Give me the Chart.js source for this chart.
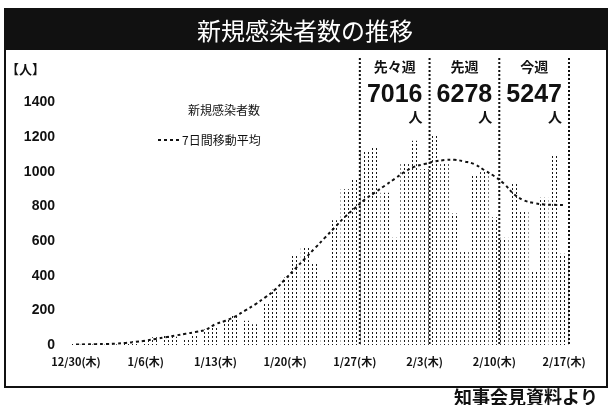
<!DOCTYPE html>
<html lang="ja">
<head>
<meta charset="utf-8">
<title>新規感染者数の推移</title>
<script src="https://cdn.jsdelivr.net/npm/chart.js@4.4.1/dist/chart.umd.min.js"></script>
<style>
  html, body { margin: 0; padding: 0; background: #fff; }
  #wrap { width: 612px; height: 405px; position: relative; }
</style>
</head>
<body>
<div id="wrap"><canvas id="trendChart" width="612" height="405"></canvas></div>
<script>
// daily dates, one bar each
const days = [
  '12/30(木)', '12/31(金)', '1/1(土)', '1/2(日)', '1/3(月)', '1/4(火)', '1/5(水)',
  '1/6(木)', '1/7(金)', '1/8(土)', '1/9(日)', '1/10(月)', '1/11(火)', '1/12(水)',
  '1/13(木)', '1/14(金)', '1/15(土)', '1/16(日)', '1/17(月)', '1/18(火)', '1/19(水)',
  '1/20(木)', '1/21(金)', '1/22(土)', '1/23(日)', '1/24(月)', '1/25(火)', '1/26(水)',
  '1/27(木)', '1/28(金)', '1/29(土)', '1/30(日)', '1/31(月)', '2/1(火)', '2/2(水)',
  '2/3(木)', '2/4(金)', '2/5(土)', '2/6(日)', '2/7(月)', '2/8(火)', '2/9(水)',
  '2/10(木)', '2/11(金)', '2/12(土)', '2/13(日)', '2/14(月)', '2/15(火)', '2/16(水)',
  '2/17(木)'
];

// new cases per day
const newCases = [
  8, 6, 3, 2, 4, 15, 22,
  30, 45, 55, 48, 35, 60, 90,
  110, 150, 170, 140, 120, 240, 320,
  390, 520, 560, 470, 380, 720, 900,
  960, 1120, 1150, 880, 620, 1050, 1180,
  1016, 1210, 1050, 760, 540, 980, 1000,
  738, 620, 940, 780, 430, 850, 1100,
  527
];

// 7-day moving average
const movingAvg = [
  3, 4, 5, 6, 8, 12, 18,
  25, 35, 45, 55, 65, 75, 88,
  120, 140, 165, 200, 235, 275, 320,
  380, 440, 500, 560, 620, 680, 740,
  790, 840, 880, 920, 960, 1000, 1030,
  1045, 1060, 1068, 1070, 1060, 1045, 1010,
  975, 930, 870, 835, 820, 812, 810,
  808
];

const tickDays = ['12/30(木)', '1/6(木)', '1/13(木)', '1/20(木)', '1/27(木)', '2/3(木)', '2/10(木)', '2/17(木)'];

// weekly totals: first day of each week, its name and sum
const weekStarts = ['1/28(金)', '2/4(金)', '2/11(金)'];
const weekNames = ['先々週', '先週', '今週'];
const weekTotals = [7016, 6278, 5247];

const TITLE = '新規感染者数の推移';
const SOURCE = '知事会見資料より';
const CJK = '"Noto Sans CJK JP", "Noto Sans", sans-serif';
const NUM = '"Liberation Sans", Arial, sans-serif';

// halftone-like fill: short vertical dashes in columns
function makeBarPattern() {
    const tile = document.createElement('canvas');
    tile.width = 4;
    tile.height = 4;
    const g = tile.getContext('2d');
    g.fillStyle = '#1a1a1a';
    g.fillRect(0, 0, 1, 2);
    return document.getElementById('trendChart').getContext('2d').createPattern(tile, 'repeat');
}

// frame, black title band
const framePlugin = {
    id: 'frame',
    beforeDraw(chart) {
        const ctx = chart.ctx;
        ctx.save();
        ctx.fillStyle = '#fff';
        ctx.fillRect(0, 0, chart.width, chart.height);
        ctx.strokeStyle = '#111';
        ctx.lineWidth = 2;
        ctx.strokeRect(5, 9, 602, 378);
        ctx.fillStyle = '#111';
        ctx.fillRect(5, 9, 602, 41);
        ctx.fillStyle = '#fff';
        ctx.font = '24px ' + CJK;
        ctx.textAlign = 'center';
        ctx.textBaseline = 'middle';
        ctx.fillText(TITLE, 305, 31);
        ctx.restore();
    }
};

// dotted week separators behind the bars
function weekEdges(chart) {
    const x = chart.scales.x;
    const half = (x.getPixelForValue(1) - x.getPixelForValue(0)) / 2;
    const edges = weekStarts.map(d => x.getPixelForValue(days.indexOf(d)) - half);
    edges.push(x.getPixelForValue(days.length - 1) + half);
    return edges;
}

const weekPlugin = {
    id: 'weeks',
    beforeDatasetsDraw(chart) {
        const ctx = chart.ctx;
        const area = chart.chartArea;
        ctx.save();
        ctx.strokeStyle = '#111';
        ctx.lineWidth = 2;
        ctx.setLineDash([2, 2]);
        weekEdges(chart).forEach(px => {
            ctx.beginPath();
            ctx.moveTo(px, area.top - 10);
            ctx.lineTo(px, area.bottom);
            ctx.stroke();
        });
        ctx.restore();
    },
    afterDraw(chart) {
        const ctx = chart.ctx;
        const edges = weekEdges(chart);
        ctx.save();
        ctx.fillStyle = '#111';
        ctx.textBaseline = 'middle';

        weekNames.forEach((name, i) => {
            const cx = (edges[i] + edges[i + 1]) / 2;
            ctx.textAlign = 'center';
            ctx.font = 'bold 14px ' + CJK;
            ctx.fillText(name, cx, 67);
            ctx.font = 'bold 25px ' + NUM;
            const txt = String(weekTotals[i]);
            ctx.fillText(txt, cx, 95);
            const right = cx + ctx.measureText(txt).width / 2;
            ctx.textAlign = 'right';
            ctx.font = 'bold 14px ' + CJK;
            ctx.fillText('人', right, 117);
        });

        // unit label
        ctx.textAlign = 'left';
        ctx.font = 'bold 13px ' + CJK;
        ctx.fillText('【人】', 6, 69);

        // legend
        ctx.font = '12px ' + CJK;
        ctx.fillText('新規感染者数', 188, 110);
        ctx.strokeStyle = '#111';
        ctx.lineWidth = 2;
        ctx.setLineDash([3, 3]);
        ctx.beginPath();
        ctx.moveTo(158, 140);
        ctx.lineTo(180, 140);
        ctx.stroke();
        ctx.setLineDash([]);
        ctx.fillText('7日間移動平均', 182, 140);

        // source note
        ctx.textAlign = 'right';
        ctx.font = 'bold 18px ' + CJK;
        ctx.fillText(SOURCE, 598, 397);
        ctx.restore();
    }
};

const chart = new Chart(document.getElementById('trendChart'), {
    type: 'bar',
    data: {
        labels: days,
        datasets: [
            {
                type: 'line',
                label: '7日間移動平均',
                data: movingAvg,
                borderColor: '#111',
                borderWidth: 2,
                borderDash: [3, 3],
                pointRadius: 0,
                tension: 0.4,
                fill: false,
                order: 0
            },
            {
                label: '新規感染者数',
                data: newCases,
                backgroundColor: makeBarPattern(),
                borderWidth: 0,
                barPercentage: 0.85,
                categoryPercentage: 1,
                order: 1
            }
        ]
    },
    options: {
        responsive: false,
        animation: false,
        layout: { padding: { top: 68, left: 0, right: 43, bottom: 28 } },
        plugins: {
            legend: { display: false },
            tooltip: { enabled: false }
        },
        scales: {
            x: {
                grid: { display: false, drawTicks: false },
                border: { display: false },
                ticks: {
                    autoSkip: false,
                    maxRotation: 0,
                    padding: 10,
                    color: '#111',
                    font: { family: CJK, size: 11, weight: 'bold' },
                    callback(v) {
                        const lab = this.getLabelForValue(v);
                        return tickDays.includes(lab) ? lab : '';
                    }
                },
                afterFit(s) { s.height = 32; }
            },
            y: {
                min: 0,
                max: 1600,
                grid: { display: false, drawTicks: false },
                border: { display: false },
                ticks: {
                    stepSize: 200,
                    padding: 16,
                    color: '#111',
                    font: { family: NUM, size: 14, weight: 'bold' },
                    callback: v => (v === 1600 ? '' : v)
                },
                afterFit(s) { s.width = 71; }
            }
        }
    },
    plugins: [framePlugin, weekPlugin]
});
</script>
</body>
</html>
